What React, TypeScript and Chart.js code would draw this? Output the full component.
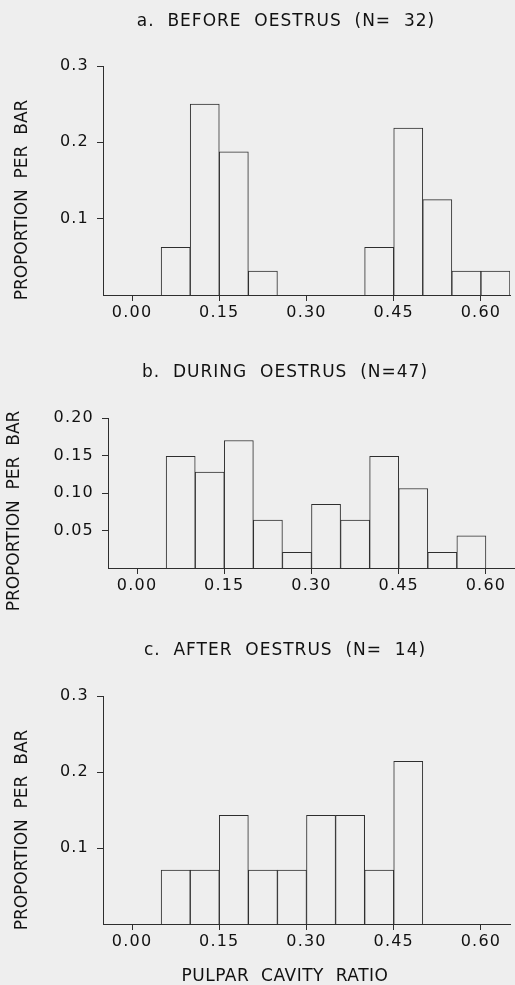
import React, { useEffect, useRef } from "react";
import { Chart, registerables } from "chart.js";

Chart.register(...registerables);

// ---- data ----
const binCenters = [0.075, 0.125, 0.175, 0.225, 0.275, 0.325, 0.375, 0.425, 0.475, 0.525, 0.575, 0.625];
const beforeValues = [0.0625, 0.25, 0.1875, 0.03125, 0, 0, 0, 0.0625, 0.21875, 0.125, 0.03125, 0.03125];
const duringValues = [0.149, 0.128, 0.17, 0.064, 0.021, 0.085, 0.064, 0.149, 0.106, 0.021, 0.043, 0];
const afterValues = [0.071, 0.071, 0.143, 0.071, 0.071, 0.143, 0.143, 0.071, 0.214, 0, 0, 0];
const xTickValues = [0, 0.15, 0.3, 0.45, 0.6];
const yTicksBefore = [0.1, 0.2, 0.3];
const yTicksDuring = [0.05, 0.1, 0.15, 0.2];
const yTicksAfter = [0.1, 0.2, 0.3];
const panelTitles = [
  "a.  BEFORE  OESTRUS  (N=  32)",
  "b.  DURING  OESTRUS  (N=47)",
  "c.  AFTER  OESTRUS  (N=  14)",
];
const yAxisTitle = "PROPORTION  PER  BAR";
const xAxisTitle = "PULPAR  CAVITY  RATIO";

// ---- style ----
const BG = "#eeeeee";
const INK = "#2e2e2e";
const TEXT = "#111111";
const FONT = '"DejaVu Sans", sans-serif';

const panelText = {
  id: "panelText",
  beforeUpdate(chart: any) {
    chart.ctx.letterSpacing = "1.2px";
  },
  beforeDraw(chart: any) {
    chart.ctx.letterSpacing = "1.2px";
  },
  afterDraw(chart: any, _args: any, opts: any) {
    const ctx = chart.ctx;
    ctx.save();
    ctx.fillStyle = TEXT;
    ctx.textAlign = "center";
    ctx.textBaseline = "middle";
    ctx.letterSpacing = "1px";
    ctx.font = `17px ${FONT}`;
    ctx.fillText(opts.title, opts.titleX, opts.titleY);
    if (opts.xLabel) {
      ctx.letterSpacing = "0.5px";
      ctx.fillText(opts.xLabel, opts.xLabelX, opts.xLabelY);
    }
    ctx.letterSpacing = "0px";
    ctx.translate(opts.yLabelX, opts.yLabelY);
    ctx.rotate(-Math.PI / 2);
    ctx.fillText(opts.yLabel, 0, 0);
    ctx.restore();
    chart.ctx.letterSpacing = "1.2px";
  },
};

type PanelProps = {
  height: number;
  values: number[];
  yMax: number;
  yTicks: number[];
  yDecimals: number;
  title: string;
  top: number;
  right: number;
  yWidth: number;
  xHeight: number;
  text: any;
};

function Panel(p: PanelProps) {
  const ref = useRef<HTMLCanvasElement>(null);
  useEffect(() => {
    if (!ref.current) return;
    const chart = new Chart(ref.current, {
      type: "bar",
      data: {
        datasets: [
          {
            data: binCenters.map((x, i) => ({ x, y: p.values[i] === 0 ? null : p.values[i] })) as any,
            backgroundColor: BG,
            borderColor: INK,
            borderWidth: 1,
            barPercentage: 1,
            categoryPercentage: 1,
          },
        ],
      },
      options: {
        responsive: false,
        animation: false,
        events: [],
        layout: { padding: { top: p.top, right: p.right, left: 0, bottom: 0 } },
        plugins: {
          legend: { display: false },
          title: { display: false },
          tooltip: { enabled: false },
          panelText: { ...p.text, title: p.title, yLabel: yAxisTitle },
        } as any,
        scales: {
          x: {
            type: "linear",
            min: -0.05,
            max: 0.65,
            offset: false,
            afterBuildTicks: (s: any) => {
              s.ticks = xTickValues.map((value) => ({ value }));
            },
            afterFit: (s: any) => {
              s.height = p.xHeight;
            },
            ticks: {
              color: TEXT,
              font: { family: FONT, size: 16 },
              padding: 2,
              maxRotation: 0,
              autoSkip: false,
              callback: (v: any) => Number(v).toFixed(2),
            },
            grid: { offset: false, drawOnChartArea: false, drawTicks: true, tickLength: 6, color: INK, lineWidth: 1 },
            border: { display: true, color: INK, width: 1 },
          },
          y: {
            type: "linear",
            min: 0,
            max: p.yMax,
            afterBuildTicks: (s: any) => {
              s.ticks = p.yTicks.map((value) => ({ value }));
            },
            afterFit: (s: any) => {
              s.width = p.yWidth;
            },
            ticks: {
              color: TEXT,
              font: { family: FONT, size: 16 },
              padding: 8,
              autoSkip: false,
              callback: (v: any) => Number(v).toFixed(p.yDecimals),
            },
            grid: { offset: false, drawOnChartArea: false, drawTicks: true, tickLength: 6, color: INK, lineWidth: 1 },
            border: { display: true, color: INK, width: 1 },
          },
        },
      },
      plugins: [panelText as any],
    });
    return () => chart.destroy();
  }, []);
  return <canvas ref={ref} width={515} height={p.height} style={{ display: "block", width: 515, height: p.height }} />;
}

export default function App() {
  return (
    <div style={{ position: "absolute", left: 0, top: 0, width: 515, height: 985, background: BG, overflow: "hidden" }}>
      <Panel
        height={330}
        values={beforeValues}
        yMax={0.3}
        yTicks={yTicksBefore}
        yDecimals={1}
        title={panelTitles[0]}
        top={66}
        right={5}
        yWidth={103}
        xHeight={35}
        text={{ titleX: 286, titleY: 22, yLabelX: 23, yLabelY: 200 }}
      />
      <Panel
        height={300}
        values={duringValues}
        yMax={0.2}
        yTicks={yTicksDuring}
        yDecimals={2}
        title={panelTitles[1]}
        top={88}
        right={0}
        yWidth={108}
        xHeight={62}
        text={{ titleX: 285, titleY: 43, yLabelX: 15, yLabelY: 181 }}
      />
      <Panel
        height={355}
        values={afterValues}
        yMax={0.3}
        yTicks={yTicksAfter}
        yDecimals={1}
        title={panelTitles[2]}
        top={66}
        right={5}
        yWidth={103}
        xHeight={61}
        text={{ titleX: 285, titleY: 21, yLabelX: 23, yLabelY: 200, xLabel: xAxisTitle, xLabelX: 285, xLabelY: 347 }}
      />
    </div>
  );
}
